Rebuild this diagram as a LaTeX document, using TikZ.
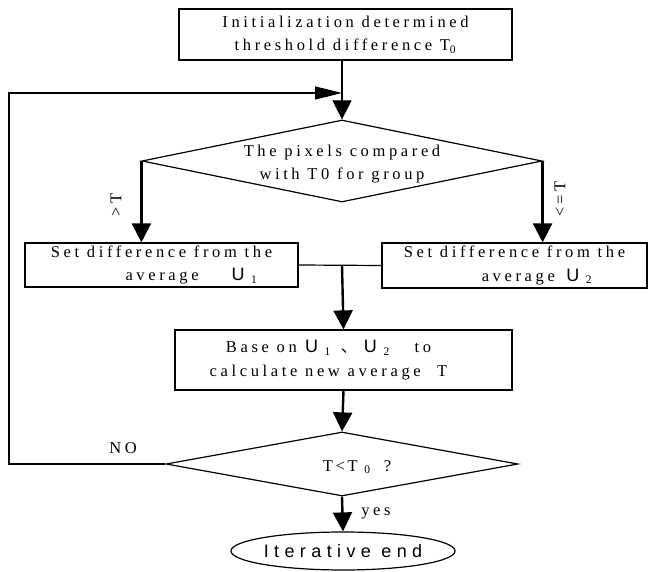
\documentclass[tikz,border=0pt]{standalone}
\usepackage{fontspec}
\setmainfont{Liberation Serif}[LetterSpace=22]
\newfontfamily\sanstxt{Liberation Sans}[LetterSpace=30]
\newfontfamily\cjk{Noto Sans CJK SC}
\usetikzlibrary{arrows.meta,shapes.geometric}
\newcommand{\Usub}[1]{{\sanstxt\fontsize{18}{18}\selectfont U}\hspace{0.4em}\textsubscript{#1}}

\tikzset{
	stepbox/.style={draw, line width=1.2pt, inner sep=0pt, align=center},
	testbox/.style={draw, diamond, line width=1.2pt, inner sep=0pt},
	thinline/.style={line width=1.2pt},
	thickline/.style={line width=2.4pt},
	bigtip/.style={-{Triangle[length=19pt,width=19pt]}},
	longtip/.style={-{Triangle[length=27pt,width=13pt]}}
}

\begin{document}
\begin{tikzpicture}[x=1pt, y=-1pt, font=\fontsize{16.5}{23.5}\selectfont]
		%%%%% START %%%%%
		\useasboundingbox (0,0) rectangle (649,572);
		
		\node[stepbox, minimum width=333pt, minimum height=51pt] (init) at (345.5,34.5) {Initialization determined\\threshold difference T\textsubscript{0}};
		\node[testbox, minimum width=400pt, minimum height=82pt] (cmp) at (342,161) {};
		\node[align=center] (cmptext) at (342,164) {The pixels compared\\with T0 for group};
		
		\node[stepbox, minimum width=273pt, minimum height=44pt] (set1) at (161.5,265) {Set difference from the\\\hspace*{60pt}average\hspace{2em}\Usub{1}};
		\node[stepbox, minimum width=265pt, minimum height=45pt] (set2) at (514.5,265.5) {Set difference from the\\\hspace*{45pt}average\hspace{0.7em}\Usub{2}};
		
		\node[stepbox, minimum width=337pt, minimum height=60pt] (calc) at (343.5,360) {Base on\hspace{0.5em}\Usub{1}\hspace{0.6em}{\cjk 、}\hspace{0.4em}\Usub{2}\hspace{1.5em}to\hspace*{30pt}\\calculate new average\hspace{1em}T\hspace*{30pt}};
		\node[testbox, minimum width=352pt, minimum height=64pt] (check) at (342,464) {};
		\node (checktext) at (357,467) {T\,<\,T\hspace{0.4em}\textsubscript{0}\hspace{0.8em}?};
		
		\node[draw, ellipse, line width=1.2pt, minimum width=214pt, minimum height=38pt, inner sep=0pt] (stop) at (343,551) {\sanstxt\fontsize{18}{18}\selectfont Iterative end};
		
		% labels
		\node[rotate=90] (gt) at (116,205) {>T};
		\node[rotate=90] (le) at (560,199) {<=T};
		\node (no) at (123,448) {NO};
		\node (yes) at (376,513) {yes};
		
		% connectors
		\coordinate (join) at (cmp.north |- 0,93);
		\coordinate (back) at (9,93);
		\coordinate (mid) at (cmp.south |- set1.east);
		
		\draw[thinline, bigtip] (cmp.north |- init.south) -- (cmp.north);
		\draw[thickline, bigtip] (cmp.west) -- (cmp.west |- set1.north);
		\draw[thickline, bigtip] (cmp.east) -- (cmp.east |- set2.north);
		\draw[thinline] (set1.east) -- (set2.west);
		\draw[thickline, bigtip] (mid) -- (calc.north);
		\draw[thickline, bigtip] (calc.south) -- (check.north);
		\draw[thickline, bigtip] (check.south) -- (stop.north);
		\draw[thinline, longtip] (check.west) -| (back) -- (join);
		
		%%%%% END %%%%%
	\end{tikzpicture}
\end{document}
